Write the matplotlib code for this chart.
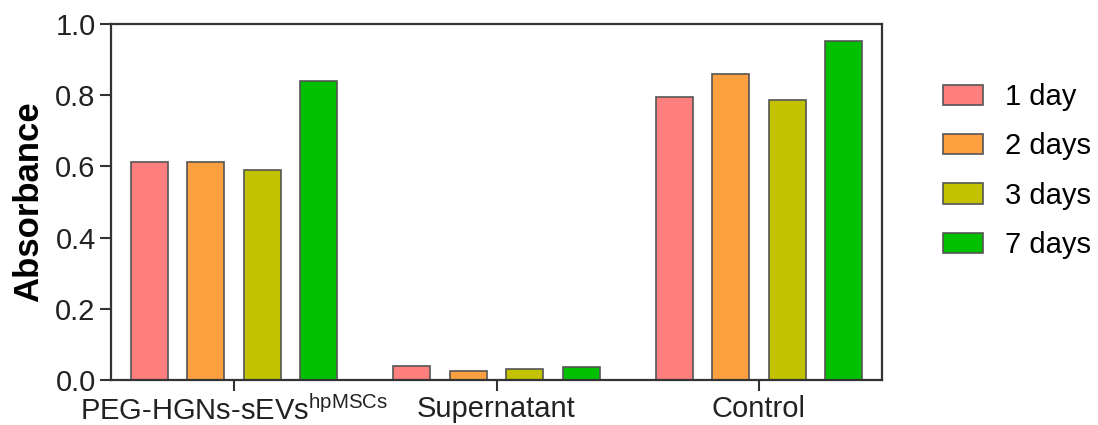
import numpy as np
import matplotlib.pyplot as plt

plt.rcParams["font.family"] = ["Liberation Sans", "DejaVu Sans"]
plt.rcParams["mathtext.fontset"] = "custom"
plt.rcParams["mathtext.rm"] = "Liberation Sans"

# --- данные ---
groups = ["PEG-HGNs-sEVs$^{\\mathrm{hpMSCs}}$", "Supernatant", "Control"]
series = ["1 day", "2 days", "3 days", "7 days"]
day1 = [0.611, 0.039, 0.794]
day2 = [0.611, 0.026, 0.859]
day3 = [0.589, 0.031, 0.787]
day7 = [0.841, 0.036, 0.952]
colors = ["#FF7F7F", "#FFA040", "#C2C200", "#00C000"]

fig = plt.figure(figsize=(10.98, 4.25), dpi=100)
ax = fig.add_axes([0.1011, 0.1059, 0.7022, 0.8376])

centers = np.arange(len(groups)) * 4.65
offsets = [-1.5, -0.5, 0.5, 1.5]
for vals, off, c, lab in zip([day1, day2, day3, day7], offsets, colors, series):
    ax.bar(centers + off, vals, width=0.66, color=c, edgecolor="#555555",
           linewidth=1.2, label=lab)

ax.set_xlim(centers[0] - 2.18, centers[-1] + 2.18)
ax.set_ylim(0, 1.0)
ax.set_yticks(np.arange(0, 1.01, 0.2))
ax.set_yticklabels([f"{v:.1f}" for v in np.arange(0, 1.01, 0.2)])
ax.set_xticks(centers)
ax.set_xticklabels(groups)
ax.tick_params(axis="both", labelsize=21, length=8, width=1.5,
               color="#333333", labelcolor="#222222")
ax.tick_params(axis="x", pad=3)
ax.tick_params(axis="y", pad=3)
ax.set_ylabel("Absorbance", fontsize=25, fontweight="bold", labelpad=7)
for s in ax.spines.values():
    s.set_color("#333333")
    s.set_linewidth(1.6)

fig.legend(loc="upper left", bbox_to_anchor=(0.835, 0.866), frameon=False,
           fontsize=21, handlelength=1.37, handleheight=0.69,
           handletextpad=0.77, labelspacing=0.73)

fig.savefig("out.png", dpi=100)
